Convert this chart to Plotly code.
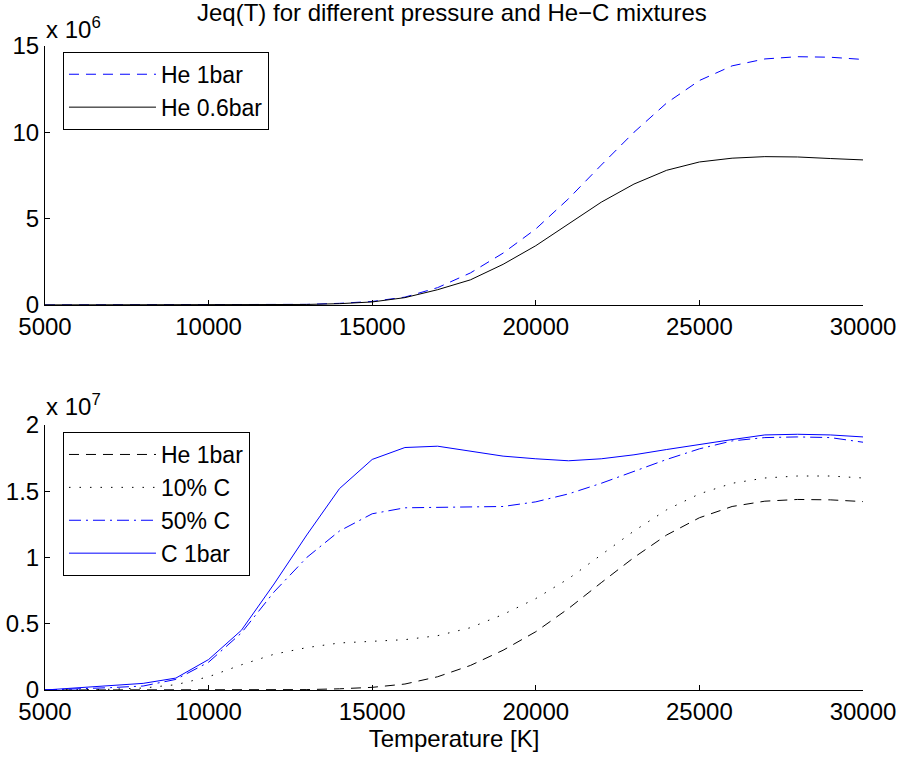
import plotly.graph_objects as go

# Temperature grid [K]
temperature = [5000, 6000, 7000, 8000, 9000, 10000, 11000, 12000, 13000, 14000,
               15000, 16000, 17000, 18000, 19000, 20000, 21000, 22000, 23000, 24000,
               25000, 26000, 27000, 28000, 29000, 30000]

# Top panel (units of 1e6)
he_1bar = [0, 0, 0, 0, 0, 0.001, 0.003, 0.01, 0.03, 0.09,
           0.2, 0.45, 1.0, 1.85, 3.0, 4.4, 6.15, 8.1, 10.0, 11.7,
           13.0, 13.85, 14.25, 14.38, 14.35, 14.22]
he_06bar = [0, 0, 0, 0, 0, 0.001, 0.003, 0.008, 0.025, 0.07,
            0.17, 0.42, 0.88, 1.45, 2.35, 3.43, 4.7, 5.95, 7.0, 7.8,
            8.28, 8.5, 8.59, 8.57, 8.48, 8.4]

# Bottom panel (units of 1e7)
c10 = [0, 0.002, 0.005, 0.015, 0.04, 0.1, 0.19, 0.27, 0.32, 0.355,
       0.37, 0.38, 0.41, 0.47, 0.57, 0.69, 0.84, 1.02, 1.2, 1.36,
       1.48, 1.56, 1.60, 1.615, 1.615, 1.60]
c50 = [0, 0.008, 0.018, 0.03, 0.08, 0.21, 0.43, 0.74, 1.0, 1.2,
       1.33, 1.375, 1.38, 1.38, 1.385, 1.42, 1.48, 1.56, 1.65, 1.74,
       1.82, 1.88, 1.905, 1.91, 1.905, 1.87]
c_1bar = [0, 0.018, 0.035, 0.05, 0.09, 0.23, 0.45, 0.8, 1.17, 1.52,
          1.74, 1.83, 1.84, 1.80, 1.765, 1.745, 1.73, 1.745, 1.775, 1.815,
          1.855, 1.89, 1.925, 1.93, 1.925, 1.91]
he_1bar_e7 = [v / 10 for v in he_1bar]

x_ticks = [5000, 10000, 15000, 20000, 25000, 30000]
x_labels = ["5000", "10000", "15000", "20000", "25000", "30000"]
top_ticks = [0, 5, 10, 15]
top_labels = ["0", "5", "10", "15"]
bot_ticks = [0, 0.5, 1, 1.5, 2]
bot_labels = ["0", "0.5", "1", "1.5", "2"]

FONT = "Liberation Sans, Arial, sans-serif"
FS = 24
LFS = 23

fig = go.Figure()
fig.add_trace(go.Scatter(x=temperature, y=he_1bar, name="He 1bar", mode="lines",
                         line=dict(color="#0000ff", width=1, dash="10px,7px"),
                         xaxis="x", yaxis="y", legend="legend"))
fig.add_trace(go.Scatter(x=temperature, y=he_06bar, name="He 0.6bar", mode="lines",
                         line=dict(color="black", width=1),
                         xaxis="x", yaxis="y", legend="legend"))

fig.add_trace(go.Scatter(x=temperature, y=he_1bar_e7, name="He 1bar", mode="lines",
                         line=dict(color="black", width=1, dash="10px,7px"),
                         xaxis="x2", yaxis="y2", legend="legend2"))
fig.add_trace(go.Scatter(x=temperature, y=c10, name="10% C", mode="lines",
                         line=dict(color="black", width=1, dash="1.5px,9px"),
                         xaxis="x2", yaxis="y2", legend="legend2"))
fig.add_trace(go.Scatter(x=temperature, y=c50, name="50% C", mode="lines",
                         line=dict(color="#0000ff", width=1, dash="12px,5px,2px,5px"),
                         xaxis="x2", yaxis="y2", legend="legend2"))
fig.add_trace(go.Scatter(x=temperature, y=c_1bar, name="C 1bar", mode="lines",
                         line=dict(color="#0000ff", width=1),
                         xaxis="x2", yaxis="y2", legend="legend2"))

axis_common = dict(showline=True, linecolor="black", linewidth=1, mirror=False,
                   showgrid=False, zeroline=False, ticks="inside", ticklen=5,
                   tickcolor="black", tickwidth=1, automargin=False,
                   tickfont=dict(family=FONT, size=FS, color="black"))

fig.update_layout(
    width=901, height=761,
    margin=dict(l=45, r=38, t=46, b=71),
    paper_bgcolor="white", plot_bgcolor="white",
    font=dict(family=FONT, size=FS, color="black"),
    xaxis=dict(domain=[0, 1], range=[5000, 30000], tickvals=x_ticks, ticktext=x_labels,
               anchor="y", **axis_common),
    yaxis=dict(domain=[0.598, 1], range=[0, 15], tickvals=top_ticks, ticktext=top_labels,
               anchor="x", **axis_common),
    xaxis2=dict(domain=[0, 1], range=[5000, 30000], tickvals=x_ticks, ticktext=x_labels,
                anchor="y2",
                title=dict(text="Temperature [K]", font=dict(family=FONT, size=FS), standoff=4),
                **axis_common),
    yaxis2=dict(domain=[0, 0.4115], range=[0, 2], tickvals=bot_ticks, ticktext=bot_labels,
                anchor="x2", **axis_common),
    legend=dict(x=0.022, y=0.991, xanchor="left", yanchor="top",
                bgcolor="white", bordercolor="black", borderwidth=1,
                font=dict(family=FONT, size=LFS), itemwidth=87, tracegroupgap=0),
    legend2=dict(x=0.022, y=0.4006, xanchor="left", yanchor="top",
                 bgcolor="white", bordercolor="black", borderwidth=1,
                 font=dict(family=FONT, size=LFS), itemwidth=87, tracegroupgap=0),
    showlegend=True,
)

fig.add_annotation(text="Jeq(T) for different pressure and He\u2212C mixtures",
                   xref="paper", yref="paper", x=0.497, y=1, yshift=34,
                   xanchor="center", yanchor="middle", showarrow=False,
                   font=dict(family=FONT, size=FS, color="black"))
fig.add_annotation(text="x 10<sup>6</sup>", xref="paper", yref="paper",
                   x=0, y=1, xanchor="left", yanchor="bottom", yshift=1, xshift=-1,
                   showarrow=False, font=dict(family=FONT, size=FS, color="black"))
fig.add_annotation(text="x 10<sup>7</sup>", xref="paper", yref="paper",
                   x=0, y=0.4115, xanchor="left", yanchor="bottom", yshift=3, xshift=-1,
                   showarrow=False, font=dict(family=FONT, size=FS, color="black"))

fig.write_html("out.html")
